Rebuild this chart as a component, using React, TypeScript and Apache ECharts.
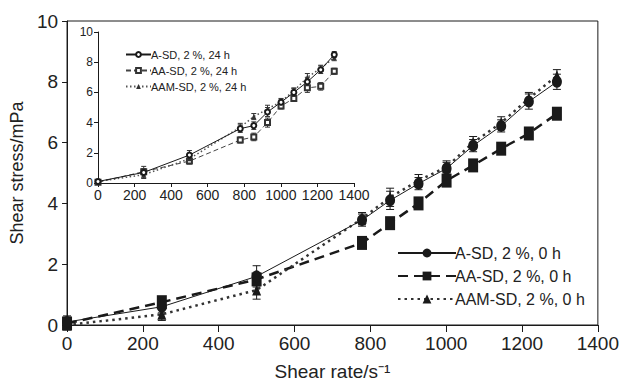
import React, { useEffect, useRef } from "react";
import * as echarts from "echarts";

const shearRate = [0, 250, 500, 778, 852, 927, 1001, 1071, 1145, 1218, 1292];

// main chart, 0 h
const aSD0 = [0.1, 0.6, 1.6, 3.45, 4.1, 4.65, 5.15, 5.9, 6.55, 7.35, 8.0];
const aaSD0 = [0.05, 0.75, 1.5, 2.7, 3.35, 4.0, 4.75, 5.25, 5.8, 6.3, 6.95];
const aamSD0 = [0.0, 0.35, 1.15, 3.5, 4.2, 4.75, 5.2, 6.0, 6.65, 7.45, 8.2];
const errA0 = [0.2, 0.2, 0.35, 0.2, 0.3, 0.2, 0.2, 0.2, 0.2, 0.25, 0.25];
const errAA0 = [0.2, 0.15, 0.2, 0.15, 0.15, 0.15, 0.15, 0.15, 0.15, 0.15, 0.15];
const errAAM0 = [0.15, 0.2, 0.3, 0.2, 0.3, 0.2, 0.2, 0.2, 0.2, 0.2, 0.2];

// inset, 24 h
const aSD24 = [0.1, 0.7, 1.85, 3.6, 3.8, 4.7, 5.35, 6.0, 6.7, 7.5, 8.5];
const aaSD24 = [0.05, 0.75, 1.45, 2.85, 3.05, 4.0, 5.1, 5.6, 6.3, 6.4, 7.4];
const aamSD24 = [0.1, 0.55, 1.6, 3.7, 4.4, 4.9, 5.4, 6.1, 7.0, 7.6, 8.3];
const errA24 = [0.15, 0.4, 0.3, 0.25, 0.25, 0.3, 0.2, 0.25, 0.3, 0.25, 0.2];
const errAA24 = [0.1, 0.2, 0.2, 0.2, 0.25, 0.3, 0.2, 0.2, 0.3, 0.25, 0.2];
const errAAM24 = [0.1, 0.2, 0.2, 0.25, 0.2, 0.25, 0.2, 0.2, 0.25, 0.2, 0.2];

const mainNames = ["A-SD, 2 %, 0 h", "AA-SD, 2 %, 0 h", "AAM-SD, 2 %, 0 h"];
const insetNames = ["A-SD, 2 %, 24 h", "AA-SD, 2 %, 24 h", "AAM-SD, 2 %, 24 h"];

const FONT = "Liberation Sans, Arial, sans-serif";
const INK = "#1a1a1a";

function pairs(ys: number[]) {
  return shearRate.map((x, i) => [x, ys[i]]);
}
function errData(ys: number[], es: number[]) {
  return shearRate.map((x, i) => [x, ys[i] - es[i], ys[i] + es[i]]);
}
function errSeries(name: string, ys: number[], es: number[], idx: number, cap: number, color: string) {
  return {
    name,
    type: "custom",
    xAxisIndex: idx,
    yAxisIndex: idx,
    z: 3,
    silent: true,
    data: errData(ys, es),
    encode: { x: 0, y: [1, 2] },
    renderItem: (params: any, api: any) => {
      const x = api.value(0);
      const p1 = api.coord([x, api.value(2)]);
      const p2 = api.coord([x, api.value(1)]);
      const st = { stroke: color, lineWidth: 1 };
      return {
        type: "group",
        children: [
          { type: "line", shape: { x1: p1[0], y1: p1[1], x2: p2[0], y2: p2[1] }, style: st },
          { type: "line", shape: { x1: p1[0] - cap, y1: p1[1], x2: p1[0] + cap, y2: p1[1] }, style: st },
          { type: "line", shape: { x1: p2[0] - cap, y1: p2[1], x2: p2[0] + cap, y2: p2[1] }, style: st },
        ],
      };
    },
  };
}

const plain = (v: number) => String(v);

export default function App() {
  const ref = useRef<HTMLDivElement>(null);
  useEffect(() => {
    if (!ref.current) return;
    const chart = echarts.init(ref.current, undefined, { renderer: "svg" });
    const mainAxisLabel = { color: "#222", fontSize: 19, fontFamily: FONT, margin: 9, formatter: plain };
    const insetX = { color: "#222", fontSize: 14, fontFamily: FONT, margin: 5, formatter: plain };
    const insetY = { color: "#222", fontSize: 12, fontFamily: FONT, margin: 5, formatter: plain };
    const axisLine = { show: true, lineStyle: { color: INK, width: 1 } };
    const option: any = {
      animation: false,
      backgroundColor: "#fff",
      textStyle: { fontFamily: FONT },
      grid: [
        { left: 67, right: 24, top: 21, bottom: 64, show: true, borderColor: INK, borderWidth: 1 },
        { left: 98, top: 32, width: 256, height: 151, show: false },
      ],
      xAxis: [
        {
          type: "value", gridIndex: 0, min: 0, max: 1400, interval: 200,
          name: "Shear rate/s\u207B\u00B9", nameLocation: "middle", nameGap: 37,
          nameTextStyle: { fontSize: 19, color: "#222", fontFamily: FONT },
          axisLine, axisTick: { show: true, inside: false, length: 7, lineStyle: { color: INK } },
          axisLabel: mainAxisLabel, splitLine: { show: false },
        },
        {
          type: "value", gridIndex: 1, min: 0, max: 1400, interval: 200,
          axisLine, axisTick: { show: true, length: 4, lineStyle: { color: INK } },
          axisLabel: insetX, splitLine: { show: false },
        },
      ],
      yAxis: [
        {
          type: "value", gridIndex: 0, min: 0, max: 10, interval: 2,
          name: "Shear stress/mPa", nameLocation: "middle", nameGap: 37,
          nameTextStyle: { fontSize: 18, color: "#222", fontFamily: FONT },
          axisLine, axisTick: { show: true, length: 5, lineStyle: { color: INK } },
          axisLabel: mainAxisLabel, splitLine: { show: false },
        },
        {
          type: "value", gridIndex: 1, min: 0, max: 10, interval: 2,
          axisLine, axisTick: { show: true, length: 4, lineStyle: { color: INK } },
          axisLabel: insetY, splitLine: { show: false },
        },
      ],
      legend: [
        {
          data: mainNames, orient: "vertical", left: 392, top: 240,
          itemWidth: 58, itemHeight: 11, itemGap: 7, selectedMode: false,
          textStyle: { fontSize: 16, color: "#222", fontFamily: FONT, padding: [0, 0, 0, -6] },
        },
        {
          data: insetNames, orient: "vertical", left: 120, top: 44,
          itemWidth: 25, itemHeight: 6, itemGap: 5, selectedMode: false,
          textStyle: { fontSize: 11, color: "#222", fontFamily: FONT, padding: [0, 0, 0, -5] },
        },
      ],
      series: [
        errSeries("eA0", aSD0, errA0, 0, 4, INK),
        errSeries("eAA0", aaSD0, errAA0, 0, 4, INK),
        errSeries("eAAM0", aamSD0, errAAM0, 0, 4, INK),
        {
          name: mainNames[0], type: "line", xAxisIndex: 0, yAxisIndex: 0, data: pairs(aSD0),
          symbol: "circle", symbolSize: [10, 12], z: 5,
          lineStyle: { color: INK, width: 1, type: "solid" }, itemStyle: { color: INK },
        },
        {
          name: mainNames[1], type: "line", xAxisIndex: 0, yAxisIndex: 0, data: pairs(aaSD0),
          symbol: "rect", symbolSize: [10, 14], z: 4,
          lineStyle: { color: INK, width: 2.5, type: [10, 6] }, itemStyle: { color: INK },
        },
        {
          name: mainNames[2], type: "line", xAxisIndex: 0, yAxisIndex: 0, data: pairs(aamSD0),
          symbol: "triangle", symbolSize: [9, 11], z: 4,
          lineStyle: { color: "#333", width: 2.5, type: [2.5, 4] }, itemStyle: { color: INK },
        },
        errSeries("eA24", aSD24, errA24, 1, 2.5, "#333"),
        errSeries("eAA24", aaSD24, errAA24, 1, 2.5, "#333"),
        errSeries("eAAM24", aamSD24, errAAM24, 1, 2.5, "#333"),
        {
          name: insetNames[0], type: "line", xAxisIndex: 1, yAxisIndex: 1, data: pairs(aSD24),
          symbol: "emptyCircle", symbolSize: 5, z: 5,
          lineStyle: { color: INK, width: 1, type: "solid" }, itemStyle: { color: INK, borderWidth: 1 },
        },
        {
          name: insetNames[1], type: "line", xAxisIndex: 1, yAxisIndex: 1, data: pairs(aaSD24),
          symbol: "emptyRect", symbolSize: 5, z: 4,
          lineStyle: { color: "#444", width: 1, type: [5, 3] }, itemStyle: { color: "#333", borderWidth: 1 },
        },
        {
          name: insetNames[2], type: "line", xAxisIndex: 1, yAxisIndex: 1, data: pairs(aamSD24),
          symbol: "triangle", symbolSize: 5, z: 4,
          lineStyle: { color: "#555", width: 1.5, type: [1.5, 2.5] }, itemStyle: { color: "#333" },
        },
      ],
    };
    chart.setOption(option);
    return () => chart.dispose();
  }, []);
  return (
    <div
      ref={ref}
      style={{ position: "fixed", left: 0, top: 0, width: 622, height: 389 }}
    />
  );
}
